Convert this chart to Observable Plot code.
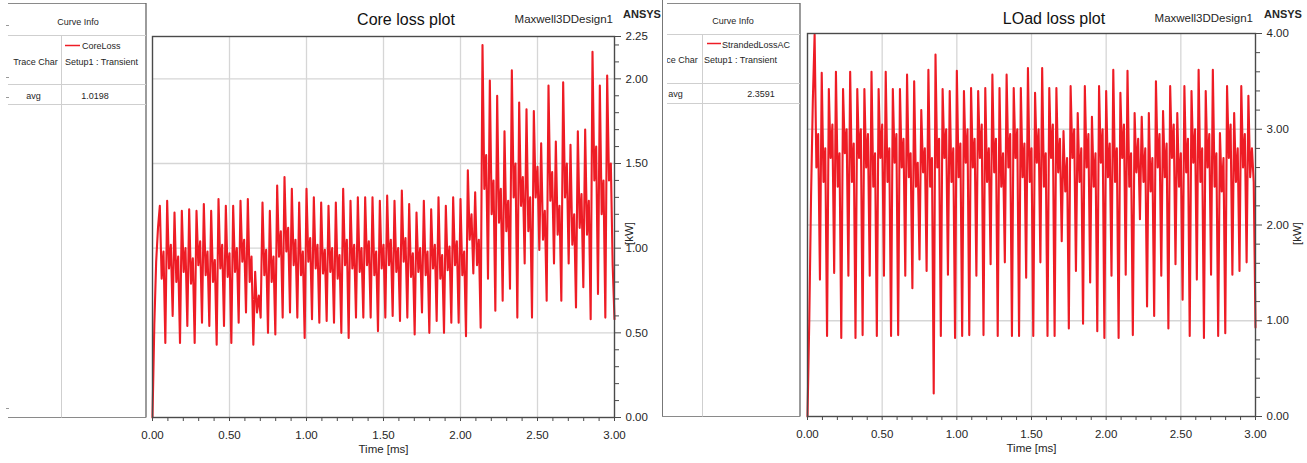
<!DOCTYPE html>
<html>
<head>
<meta charset="utf-8">
<script src="https://cdn.jsdelivr.net/npm/d3@7"></script>
<script src="https://cdn.jsdelivr.net/npm/@observablehq/plot@0.6"></script>
<style>
  html, body { margin: 0; padding: 0; background: #fff; }
  #root { position: relative; width: 1307px; height: 463px; overflow: hidden; background: #fff; }
  #root > svg { position: absolute; overflow: visible; }
</style>
</head>
<body>
<div id="root"></div>
<script>
// ---------------- data ----------------
const timeEndMs = 3.0;
const xMajorTicks = [0, 0.5, 1.0, 1.5, 2.0, 2.5, 3.0];
const xMinorTicks = [0.1,0.2,0.3,0.4,0.6,0.7,0.8,0.9,1.1,1.2,1.3,1.4,1.6,1.7,1.8,1.9,2.1,2.2,2.3,2.4,2.6,2.7,2.8,2.9];
const coreYMajorTicks = [0, 0.5, 1.0, 1.5, 2.0, 2.25];
const coreYGrid = [0.5, 1.0, 1.5, 2.0];
const coreYMinorTicks = [0.1,0.2,0.3,0.4,0.6,0.7,0.8,0.9,1.1,1.2,1.3,1.4,1.6,1.7,1.8,1.9,2.1,2.2];
const loadYMajorTicks = [0, 1, 2, 3, 4];
const loadYGrid = [1, 2, 3];
const loadYMinorTicks = [0.2,0.4,0.6,0.8,1.2,1.4,1.6,1.8,2.2,2.4,2.6,2.8,3.2,3.4,3.6,3.8];

// CoreLoss [kW]: start-up samples, then per-cycle peak / shoulder / bump / trough, then final sample
const coreStart = [0, 0.55, 0.92, 1.12];
const corePeak = [
  1.25, 1.28, 1.21, 1.22, 1.23, 1.22, 1.26, 1.22, 1.29, 1.25,
  1.25, 1.28, 1.29, 0.86, 1.27, 1.22, 1.37, 1.42, 1.35, 1.27,
  1.35, 1.30, 1.27, 1.25, 1.27, 1.35, 1.28, 1.30, 1.30, 1.30,
  1.28, 1.31, 1.28, 1.34, 1.26, 1.21, 1.28, 1.23, 1.30, 1.25,
  1.30, 1.29, 1.46, 1.33, 2.20, 1.99, 1.90, 1.69, 2.05, 1.86,
  1.82, 1.81, 1.62, 1.96, 1.63, 1.98, 1.61, 1.69, 1.70, 2.16,
  1.96, 2.02];
const coreShoulder = [
  0.82, 0.88, 0.80, 0.86, 0.79, 0.90, 0.84, 0.80, 0.88, 0.83,
  0.86, 0.92, 0.80, 0.62, 0.84, 0.80, 0.95, 0.98, 0.90, 0.84,
  0.92, 0.88, 0.85, 0.86, 0.82, 0.90, 0.88, 0.86, 0.90, 0.84,
  0.88, 0.90, 0.86, 0.92, 0.83, 0.86, 0.84, 0.88, 0.82, 0.87,
  0.90, 0.84, 1.05, 0.90, 1.35, 1.20, 1.15, 1.10, 1.30, 1.25,
  1.10, 1.30, 1.05, 1.28, 1.08, 1.30, 1.02, 1.12, 1.08, 1.40,
  1.20, 1.40];
const coreBump = [
  0.98, 1.02, 0.95, 1.00, 0.94, 1.04, 0.98, 0.93, 1.02, 0.97,
  1.00, 1.05, 0.95, 0.72, 0.99, 0.95, 1.10, 1.12, 1.05, 0.98,
  1.06, 1.02, 0.99, 1.00, 0.96, 1.05, 1.02, 1.00, 1.04, 0.98,
  1.02, 1.05, 1.00, 1.06, 0.97, 1.00, 0.98, 1.02, 0.96, 1.01,
  1.04, 0.98, 1.20, 1.05, 1.55, 1.40, 1.35, 1.28, 1.50, 1.42,
  1.30, 1.48, 1.22, 1.45, 1.25, 1.50, 1.20, 1.32, 1.28, 1.60,
  1.40, 1.50];
const coreTrough = [
  0.44, 0.60, 0.44, 0.54, 0.44, 0.56, 0.54, 0.43, 0.54, 0.44,
  0.56, 0.62, 0.43, 0.59, 0.50, 0.49, 0.59, 0.62, 0.59, 0.47,
  0.58, 0.56, 0.57, 0.56, 0.50, 0.47, 0.59, 0.59, 0.59, 0.51,
  0.59, 0.60, 0.57, 0.59, 0.49, 0.62, 0.50, 0.57, 0.50, 0.56,
  0.56, 0.48, 0.85, 0.53, 0.82, 0.63, 0.69, 0.76, 0.59, 0.91,
  0.59, 0.99, 0.69, 0.91, 0.69, 0.91, 0.65, 0.77, 0.58, 0.73,
  0.59, 0.90];
const coreEnd = 0.58;

// StrandedLossAC [kW]
const loadStart = [0, 1.0, 2.3, 3.3];
const loadPeak = [
  3.99, 3.59, 3.42, 3.60, 3.42, 3.60, 3.42, 3.42, 3.60, 3.42,
  3.60, 3.42, 3.42, 3.57, 3.50, 3.20, 3.62, 3.78, 3.42, 3.40,
  3.61, 3.40, 3.43, 3.40, 3.43, 3.57, 3.43, 3.57, 3.43, 3.43,
  3.64, 3.38, 3.64, 3.43, 3.43, 2.98, 3.45, 3.17, 3.45, 3.13,
  3.45, 3.40, 3.62, 3.38, 3.61, 3.17, 3.13, 3.17, 3.50, 3.19,
  3.45, 3.17, 3.45, 3.40, 3.62, 3.40, 3.62, 2.96, 3.45, 3.17,
  3.45, 3.35];
const loadShoulder = [
  2.60, 2.45, 2.70, 2.40, 2.75, 2.45, 2.70, 2.60, 2.40, 2.70,
  2.45, 2.65, 2.60, 2.50, 2.40, 2.55, 2.40, 2.60, 2.70, 2.45,
  2.50, 2.65, 2.60, 2.70, 2.45, 2.55, 2.40, 2.60, 2.70, 2.50,
  2.45, 2.65, 2.40, 2.70, 2.55, 2.35, 2.70, 2.45, 2.60, 2.40,
  2.65, 2.50, 2.45, 2.70, 2.40, 2.55, 2.45, 2.35, 2.60, 2.50,
  2.70, 2.40, 2.55, 2.65, 2.45, 2.60, 2.40, 2.35, 2.70, 2.45,
  2.60, 2.50];
const loadBump = [
  2.95, 2.80, 3.05, 2.75, 3.00, 2.85, 3.00, 2.95, 2.75, 3.05,
  2.80, 2.95, 2.90, 2.75, 2.65, 2.80, 2.70, 2.90, 3.00, 2.80,
  2.85, 3.00, 2.90, 3.05, 2.80, 2.90, 2.75, 2.95, 3.00, 2.85,
  2.80, 3.00, 2.75, 3.05, 2.90, 2.70, 3.00, 2.80, 2.95, 2.75,
  3.00, 2.85, 2.80, 3.05, 2.75, 2.90, 2.80, 2.70, 2.95, 2.85,
  3.05, 2.75, 2.90, 3.00, 2.80, 2.95, 2.75, 2.70, 3.05, 2.80,
  2.95, 2.80];
const loadTrough = [
  1.43, 0.84, 1.50, 0.82, 1.47, 0.82, 0.85, 1.47, 0.84, 1.47,
  0.84, 0.85, 1.47, 1.34, 1.64, 1.52, 0.24, 0.84, 1.48, 0.82,
  0.84, 0.85, 1.47, 0.85, 1.59, 0.84, 1.61, 0.84, 0.84, 1.45,
  0.84, 1.61, 0.84, 0.84, 1.83, 0.92, 1.52, 0.97, 1.40, 0.89,
  0.82, 1.47, 0.82, 1.48, 0.85, 2.06, 1.15, 1.05, 1.47, 0.92,
  1.59, 1.22, 0.84, 1.43, 0.82, 1.48, 0.84, 0.87, 1.48, 1.52,
  1.61, 2.45];
const loadEnd = 0.93;

// ---------------- build sample tables ----------------
function buildSeries(start, peak, shoulder, bump, trough, end) {
  const v = [...start];
  for (let i = 0; i < peak.length; i++) v.push(peak[i], shoulder[i], bump[i], trough[i]);
  v.push(end);
  const dt = timeEndMs / (v.length - 1);
  return v.map((kw, i) => ({t: i * dt, kw}));
}
const coreData = buildSeries(coreStart, corePeak, coreShoulder, coreBump, coreTrough, coreEnd);
const loadData = buildSeries(loadStart, loadPeak, loadShoulder, loadBump, loadTrough, loadEnd);

// ---------------- styles ----------------
const RED = "#ee1c25";
const GRID = "#d6d6d6";
const AXIS = "#4a4a4a";
const TXT = "#262626";
const tickFont = '"Liberation Sans Narrow", "Liberation Sans", Arial, sans-serif';
const uiFont = '"Liberation Sans", Arial, sans-serif';
const f2 = d3.format(".2f");

function lossPlot({data, yDomain, yMajor, yGrid, yMinor, width, mL, mR, mT, mB, kwDx, kwDy}) {
  return Plot.plot({
    width, height: 463,
    marginLeft: mL, marginRight: mR, marginTop: mT, marginBottom: mB,
    x: {domain: [0, timeEndMs], axis: null},
    y: {domain: yDomain, axis: null},
    style: {background: "transparent", fontFamily: tickFont, fontSize: "11.5px", color: TXT, overflow: "visible"},
    marks: [
      Plot.gridX(xMajorTicks.slice(1, -1), {stroke: GRID, strokeOpacity: 1, strokeWidth: 1.3}),
      Plot.gridY(yGrid, {stroke: GRID, strokeOpacity: 1, strokeWidth: 1.3}),
      Plot.line(data, {x: "t", y: "kw", stroke: RED, strokeWidth: 2.1}),
      Plot.frame({stroke: AXIS, strokeWidth: 1.4}),
      Plot.axisX(xMajorTicks, {tickSize: 4, tickPadding: 9, tickFormat: f2, label: null, stroke: AXIS}),
      Plot.axisX(xMinorTicks, {tickSize: 4, tickFormat: () => "", label: null, stroke: AXIS}),
      Plot.axisY(yMajor, {anchor: "right", tickSize: 6, tickPadding: 5, tickFormat: f2, label: null, stroke: AXIS}),
      Plot.axisY(yMinor, {anchor: "right", tickSize: 4, tickFormat: () => "", label: null, stroke: AXIS}),
      Plot.text(["Time [ms]"], {text: d => d, frameAnchor: "bottom", dy: 35, fill: TXT}),
      Plot.text(["[kW]"], {text: d => d, frameAnchor: "right", dx: kwDx, dy: kwDy, rotate: -90, fill: TXT})
    ]
  });
}

const root = d3.select("#root");

// ---------------- static decorations (curve info boxes, titles) ----------------
const deco = root.append("svg").attr("width", 1307).attr("height", 463)
  .style("left", "0px").style("top", "0px")
  .attr("font-family", uiFont).attr("fill", TXT);

function line(x1, y1, x2, y2, color, w) {
  deco.append("line").attr("x1", x1).attr("y1", y1).attr("x2", x2).attr("y2", y2)
    .attr("stroke", color).attr("stroke-width", w || 1);
}
function text(x, y, s, opts = {}) {
  const t = deco.append("text").attr("x", x).attr("y", y).text(s)
    .attr("font-size", opts.size || 9).attr("text-anchor", opts.anchor || "start");
  if (opts.bold) t.attr("font-weight", "bold");
  if (opts.clip) t.attr("clip-path", opts.clip);
  return t;
}
deco.append("clipPath").attr("id", "box2clip").append("rect")
  .attr("x", 667).attr("y", 0).attr("width", 140).attr("height", 463);

// Box 1
line(8, 3.5, 146, 3.5, "#8a8a8a");
line(146, 3, 146, 417.5, "#666", 1.3);
line(8, 417.5, 146, 417.5, "#8a8a8a");
line(8, 35.5, 146, 35.5, "#cfcfcf");
line(8, 84.5, 146, 84.5, "#cfcfcf");
line(8, 104.5, 146, 104.5, "#cfcfcf");
line(61.5, 35.5, 61.5, 417.5, "#cfcfcf");
[25.5, 77.5, 97.5, 408.5].forEach(y => line(6, y, 9, y, "#999"));
text(78, 25, "Curve Info", {anchor: "middle"});
line(65, 45.5, 80, 45.5, RED, 1.5);
text(82, 49, "CoreLoss");
text(65, 65, "Setup1 : Transient");
text(35.5, 65, "Trace Char", {anchor: "middle"});
text(33.5, 99, "avg", {anchor: "middle"});
text(95, 99, "1.0198", {anchor: "middle"});

// Box 2
line(662.5, 0, 662.5, 417, "#777");
line(667, 3.5, 800, 3.5, "#8a8a8a");
line(800, 3, 800, 416.5, "#666", 1.3);
line(662, 416.5, 800, 416.5, "#8a8a8a");
line(667, 34.5, 800, 34.5, "#cfcfcf");
line(667, 83.5, 800, 83.5, "#cfcfcf");
line(667, 103.5, 800, 103.5, "#cfcfcf");
line(702.5, 34.5, 702.5, 416.5, "#cfcfcf");
text(733, 24, "Curve Info", {anchor: "middle"});
line(707, 43.5, 721, 43.5, RED, 1.5);
text(722, 48, "StrandedLossAC");
text(704, 63, "Setup1 : Transient");
text(675.5, 63, "Trace Char", {anchor: "middle", clip: "url(#box2clip)"});
text(675.5, 97, "avg", {anchor: "middle", clip: "url(#box2clip)"});
text(761, 97, "2.3591", {anchor: "middle"});

// Titles
text(406, 25, "Core loss plot", {size: 16, anchor: "middle"}).attr("fill", "#111");
text(613, 23, "Maxwell3DDesign1", {size: 11.5, anchor: "end"});
text(623, 18, "ANSYS", {size: 11, bold: true});
text(1054, 24, "LOad loss plot", {size: 16, anchor: "middle"}).attr("fill", "#111");
text(1253, 22, "Maxwell3DDesign1", {size: 11.5, anchor: "end"});
text(1264, 18, "ANSYS", {size: 11, bold: true});

// ---------------- plots ----------------
const core = lossPlot({data: coreData, yDomain: [0, 2.25], yMajor: coreYMajorTicks, yGrid: coreYGrid, yMinor: coreYMinorTicks,
  width: 520, mL: 12, mR: 46, mT: 36, mB: 46, kwDx: 14.5, kwDy: -5});
core.style.left = "140px"; core.style.top = "0px";
root.node().appendChild(core);

const load = lossPlot({data: loadData, yDomain: [0, 4], yMajor: loadYMajorTicks, yGrid: loadYGrid, yMinor: loadYMinorTicks,
  width: 512, mL: 12, mR: 52, mT: 33, mB: 47, kwDx: 41.5, kwDy: -3});
load.style.left = "795px"; load.style.top = "0px";
root.node().appendChild(load);
</script>
</body>
</html>
